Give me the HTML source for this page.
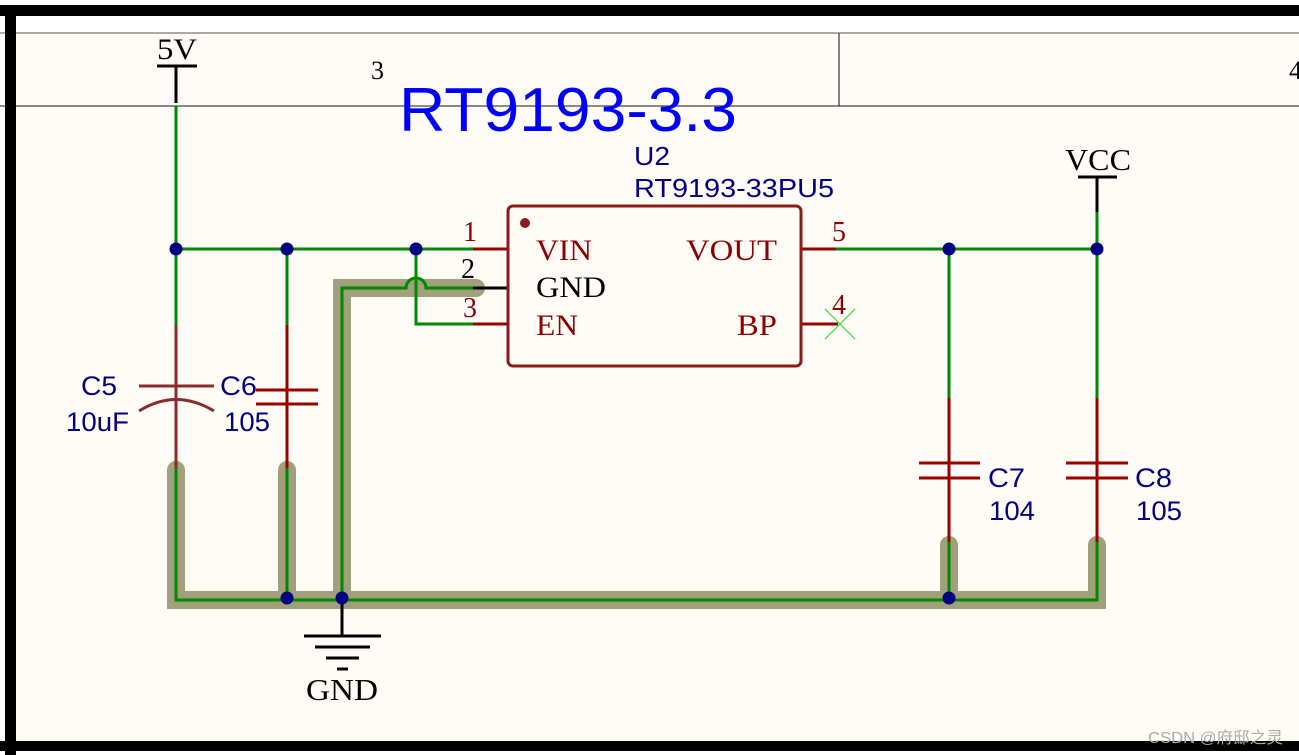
<!DOCTYPE html>
<html><head><meta charset="utf-8"><style>
html,body{margin:0;padding:0;background:#fff;}
svg{display:block}
</style></head><body>
<svg width="1299" height="755" xmlns="http://www.w3.org/2000/svg">
<rect x="0" y="0" width="1299" height="755" fill="#ffffff"/>
<rect x="16" y="33" width="1283" height="708" fill="#fffcf7"/>
<line x1="0" y1="33" x2="1299" y2="33" stroke="#777" stroke-width="1.2"/>
<line x1="0" y1="106" x2="1299" y2="106" stroke="#444" stroke-width="1.2"/>
<line x1="839" y1="33" x2="839" y2="106" stroke="#333" stroke-width="1.2"/>
<rect x="0" y="5" width="1299" height="11" fill="#000"/>
<rect x="5" y="5" width="11" height="750" fill="#000"/>
<rect x="0" y="741" width="1299" height="10" fill="#000"/>
<text x="371" y="79" font-family="Liberation Serif" font-size="26" fill="#000">3</text>
<text x="1289" y="79" font-family="Liberation Serif" font-size="26" fill="#000">4</text>
<text x="399" y="131" font-family="Liberation Sans" font-size="62" textLength="338" lengthAdjust="spacingAndGlyphs" fill="#0000ff">RT9193-3.3</text>
<g fill="none" stroke="#a0a07a" stroke-width="18" stroke-linecap="round" stroke-linejoin="miter">
<path d="M176 470 V600 H1097 V545" stroke-linecap="butt"/>
<line x1="176" y1="470" x2="176" y2="480"/>
<line x1="1097" y1="545" x2="1097" y2="555"/>
<line x1="287" y1="470" x2="287" y2="600"/>
<line x1="949" y1="545" x2="949" y2="600"/>
<path d="M342 600 V288 H473" stroke-linecap="butt"/>
<line x1="473" y1="288" x2="476" y2="288"/>
</g>
<g fill="none" stroke="#008800" stroke-width="3">
<path d="M176 106 V325"/>
<path d="M176 249 H473"/>
<path d="M287 249 V325"/>
<path d="M416 249 V324 H473"/>
<path d="M176 468 V600 H1097 V542"/>
<path d="M287 468 V600"/>
<path d="M949 542 V600"/>
<path d="M342 600 V288 H406 A10 10 0 0 1 426 288 H473"/>
<path d="M836 249 H1097"/>
<path d="M949 249 V398"/>
<path d="M1097 212 V398"/>
</g>
<g stroke="#000" stroke-width="3" fill="none">
<line x1="157" y1="66" x2="197" y2="66"/>
<line x1="176" y1="66" x2="176" y2="103"/>
<line x1="1078" y1="177" x2="1117" y2="177"/>
<line x1="1097" y1="177" x2="1097" y2="212"/>
<line x1="342" y1="600" x2="342" y2="636"/>
<line x1="304" y1="636" x2="381" y2="636"/>
<line x1="315" y1="647" x2="370" y2="647"/>
<line x1="326" y1="658" x2="359" y2="658"/>
<line x1="337" y1="669" x2="348" y2="669"/>
<line x1="473" y1="288" x2="508" y2="288"/>
</g>
<text x="157" y="59" font-family="Liberation Serif" font-size="30" textLength="40" lengthAdjust="spacingAndGlyphs" fill="#000">5V</text>
<text x="1065" y="170" font-family="Liberation Serif" font-size="31" textLength="66" lengthAdjust="spacingAndGlyphs" fill="#000">VCC</text>
<text x="306" y="700" font-family="Liberation Serif" font-size="31" textLength="72" lengthAdjust="spacingAndGlyphs" fill="#000">GND</text>
<g stroke="#8b2a2a" stroke-width="3" fill="none">
<line x1="176" y1="325" x2="176" y2="468"/>
<line x1="139" y1="386" x2="214" y2="386"/>
<path d="M139 411 Q176 388 214 411"/>
</g>
<g stroke="#990000" stroke-width="3" fill="none">
<line x1="287" y1="325" x2="287" y2="468"/>
<line x1="256" y1="390" x2="318" y2="390"/>
<line x1="256" y1="404" x2="318" y2="404"/>
<line x1="949" y1="398" x2="949" y2="542"/>
<line x1="919" y1="463" x2="980" y2="463"/>
<line x1="919" y1="478" x2="980" y2="478"/>
<line x1="1097" y1="398" x2="1097" y2="542"/>
<line x1="1066" y1="463" x2="1128" y2="463"/>
<line x1="1066" y1="478" x2="1128" y2="478"/>
<line x1="473" y1="249" x2="508" y2="249"/>
<line x1="473" y1="324" x2="508" y2="324"/>
<line x1="801" y1="249" x2="836" y2="249"/>
<line x1="801" y1="324" x2="838" y2="324"/>
</g>
<g font-family="Liberation Sans" font-size="27" fill="#000080">
<text x="81" y="395" textLength="36" lengthAdjust="spacingAndGlyphs">C5</text>
<text x="66" y="431" textLength="63" lengthAdjust="spacingAndGlyphs">10uF</text>
<text x="220" y="395" textLength="37" lengthAdjust="spacingAndGlyphs">C6</text>
<text x="224" y="431" textLength="46" lengthAdjust="spacingAndGlyphs">105</text>
<text x="988" y="487" textLength="37" lengthAdjust="spacingAndGlyphs">C7</text>
<text x="989" y="520" textLength="46" lengthAdjust="spacingAndGlyphs">104</text>
<text x="1135" y="487" textLength="37" lengthAdjust="spacingAndGlyphs">C8</text>
<text x="1136" y="520" textLength="46" lengthAdjust="spacingAndGlyphs">105</text>
<text x="634" y="165" font-size="26" textLength="36" lengthAdjust="spacingAndGlyphs">U2</text>
<text x="634" y="197" font-size="26" textLength="200" lengthAdjust="spacingAndGlyphs">RT9193-33PU5</text>
</g>
<rect x="508" y="206" width="293" height="160" rx="5" fill="none" stroke="#8b1a1a" stroke-width="3"/>
<circle cx="525" cy="223" r="5" fill="#8b1a1a"/>
<g font-family="Liberation Serif" font-size="30" fill="#8b0000">
<text x="536" y="260" textLength="56" lengthAdjust="spacingAndGlyphs">VIN</text>
<text x="536" y="335" textLength="42" lengthAdjust="spacingAndGlyphs">EN</text>
<text x="686" y="260" textLength="91" lengthAdjust="spacingAndGlyphs">VOUT</text>
<text x="737" y="335" textLength="40" lengthAdjust="spacingAndGlyphs">BP</text>
</g>
<text x="536" y="297" font-family="Liberation Serif" font-size="30" textLength="70" lengthAdjust="spacingAndGlyphs" fill="#000">GND</text>
<g font-family="Liberation Serif" font-size="28" fill="#8b0000">
<text x="463" y="241">1</text>
<text x="463" y="317">3</text>
<text x="832" y="241">5</text>
<text x="832" y="314">4</text>
</g>
<text x="461" y="278" font-family="Liberation Serif" font-size="28" fill="#000">2</text>
<g stroke="#33dd33" stroke-width="1.2">
<line x1="825" y1="309" x2="855" y2="339"/>
<line x1="825" y1="339" x2="855" y2="309"/>
</g>
<g fill="#000080">
<circle cx="176" cy="249" r="6.5"/>
<circle cx="287" cy="249" r="6.5"/>
<circle cx="416" cy="249" r="6.5"/>
<circle cx="949" cy="249" r="6.5"/>
<circle cx="1097" cy="249" r="6.5"/>
<circle cx="287" cy="598" r="6.5"/>
<circle cx="342" cy="598" r="6.5"/>
<circle cx="949" cy="598" r="6.5"/>
</g>
<text x="1148" y="743" font-family="Liberation Sans, Noto Sans CJK SC, sans-serif" font-size="16" textLength="135" lengthAdjust="spacingAndGlyphs" fill="#aaa">CSDN @府邸之灵</text>
</svg>
</body></html>
